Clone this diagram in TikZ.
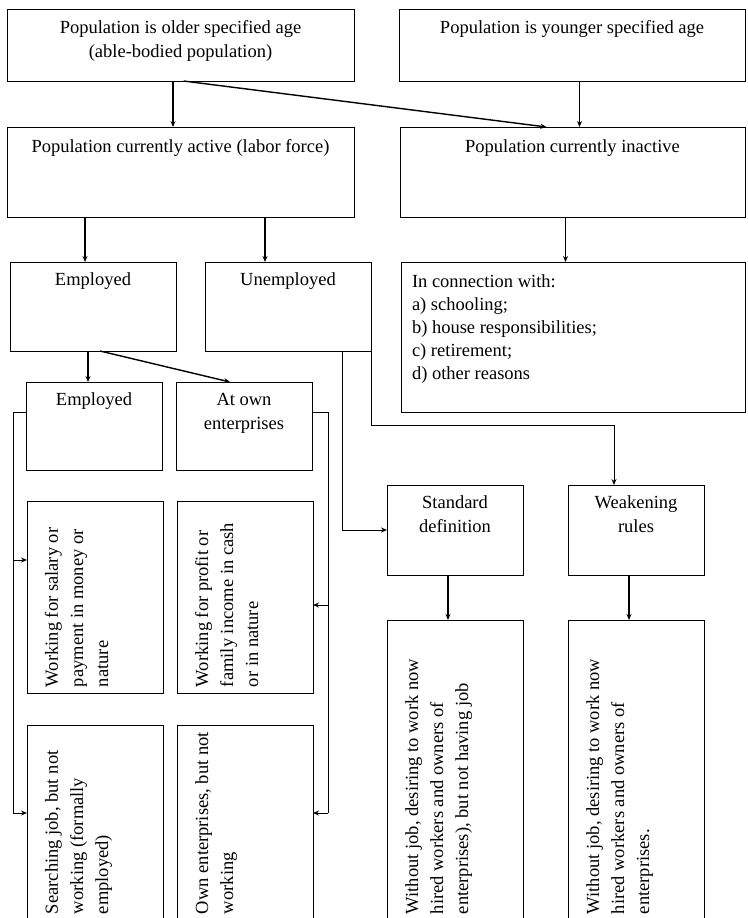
\documentclass[tikz,border=0pt]{standalone}
\usepackage{fontspec}
\setmainfont{Liberation Serif}
\usepackage{graphicx}
\usetikzlibrary{arrows.meta}
\newcommand{\tbx}[4]{\parbox[c][#2][t]{#1}{\centering\rule{0pt}{#3}#4}}
\newcommand{\lbx}[4]{\parbox[c][#2][t]{#1}{\raggedright\leftskip=11pt\fontsize{18.5}{23}\selectfont\rule{0pt}{#3}#4}}
\newcommand{\rbx}[3]{\rotatebox{90}{\parbox[c][#1][t]{#2}{\raggedright\leftskip=6pt\fontsize{18.5}{25}\selectfont\rule{0pt}{31pt}#3}}}
\begin{document}
\begin{tikzpicture}[x=1pt,y=-1pt, font=\fontsize{18.5}{24.5}\selectfont,
  box/.style={draw, line width=0.9pt, inner sep=0pt, outer sep=0pt, anchor=north west},
  thk/.style={line width=1.4pt, -{Stealth[length=6pt,width=5pt]}},
  thn/.style={line width=0.8pt},
  thna/.style={line width=0.8pt, -{Stealth[length=6pt,width=5pt]}}]
\useasboundingbox (0,0) rectangle (747,918);
\clip (0,0) rectangle (747,918);
\fill[white] (0,0) rectangle (747,918);

% boxes
\node[box] (b1) at (7,9) {\tbx{347pt}{72pt}{24pt}{Population is older specified age\\(able-bodied population)}};
\node[box] (b2) at (399,9) {\tbx{346pt}{72pt}{24pt}{Population is younger specified age}};
\node[box] (b3) at (7,127) {\tbx{347pt}{90pt}{25pt}{Population currently active (labor force)}};
\node[box] (b4) at (400,127) {\tbx{345pt}{90pt}{25pt}{Population currently inactive}};
\node[box] (emp) at (10,262) {\tbx{166pt}{89pt}{23pt}{Employed}};
\node[box] (unemp) at (205,262) {\tbx{166pt}{89pt}{23pt}{Unemployed}};
\node[box] (list) at (401,262) {\lbx{344pt}{150pt}{25pt}{In connection with:\\a) schooling;\\b) house responsibilities;\\c) retirement;\\d) other reasons}};
\node[box] (emp2) at (26,382) {\tbx{136pt}{88pt}{23pt}{Employed}};
\node[box] (own) at (176,382) {\tbx{136pt}{88pt}{23pt}{At own\\enterprises}};
\node[box] (sal) at (27,501) {\rbx{136pt}{192pt}{Working for salary or\\payment in money or\\nature}};
\node[box] (prof) at (177,501) {\rbx{136pt}{192pt}{Working for profit or\\family income in cash\\or in nature}};
\node[box] (search) at (27,725) {\rbx{136pt}{195pt}{Searching job, but not\\working (formally\\employed)}};
\node[box] (ownnw) at (177,725) {\rbx{136pt}{195pt}{Own enterprises, but not\\working}};
\node[box] (std) at (387,485) {\tbx{136pt}{90pt}{23pt}{Standard\\definition}};
\node[box] (weak) at (568,485) {\tbx{136pt}{90pt}{23pt}{Weakening\\rules}};
\node[box] (woj1) at (387,620) {\rbx{136pt}{300pt}{Without job, desiring to work now\\hired workers and owners of\\enterprises), but not having job}};
\node[box] (woj2) at (568,620) {\rbx{136pt}{300pt}{Without job, desiring to work now\\hired workers and owners of\\enterprises.}};

% connectors
\coordinate (c1) at ([xshift=-7.5pt]b1.south);
\draw[thk] (c1) -- (c1 |- b3.north);
\draw[thk] ([xshift=3pt]b1.south) -- ([xshift=-26pt]b4.north);
\coordinate (c2) at ([xshift=7.5pt]b2.south);
\draw[thk] (c2) -- (c2 |- b4.north);
\coordinate (c3) at ([xshift=-8pt]emp.north);
\draw[thk] (c3 |- b3.south) -- (c3);
\coordinate (c4) at ([xshift=-23pt]unemp.north);
\draw[thk] (c4 |- b3.south) -- (c4);
\coordinate (c5) at ([xshift=-7pt]b4.south);
\draw[thk] (c5) -- (c5 |- list.north);
\coordinate (c6) at ([xshift=-6pt]emp2.north);
\draw[thk] (c6 |- emp.south) -- (c6);
\draw[thk] ([xshift=7pt]emp.south) -- ([xshift=-14pt]own.north);

% left bracket
\coordinate (L0) at ([yshift=14pt]emp2.west);
\coordinate (L1) at ([xshift=-13pt]L0);
\coordinate (s1) at ([yshift=37pt]sal.west);
\coordinate (s2) at ([yshift=9.5pt]search.west);
\draw[thn] (L0) -- (L1) -- (L1 |- s2);
\draw[thna] (L1 |- s1) -- (s1);
\draw[thna] (L1 |- s2) -- (s2);

% right bracket
\coordinate (R0) at ([yshift=14pt]own.east);
\coordinate (R1) at ([xshift=16pt]R0);
\coordinate (r1) at ([yshift=-8pt]prof.east);
\coordinate (r2) at ([yshift=9.5pt]ownnw.east);
\draw[thn] (R0) -- (R1) -- (R1 |- r2);
\draw[thna] (R1 |- r1) -- (r1);
\draw[thna] (R1 |- r2) -- (r2);

% unemployed branches
\coordinate (u1) at ([xshift=-29pt]unemp.south east);
\draw[thna] (u1) |- (std.west);
\coordinate (w1) at ([xshift=-22pt]weak.north);
\draw[thna] (unemp.south east) -- ++(0,74) -| (w1);

% definitions down
\coordinate (d1) at ([xshift=-7pt]std.south);
\draw[thk] (d1) -- (d1 |- woj1.north);
\coordinate (d2) at ([xshift=-7pt]weak.south);
\draw[thk] (d2) -- (d2 |- woj2.north);
\end{tikzpicture}
\end{document}
